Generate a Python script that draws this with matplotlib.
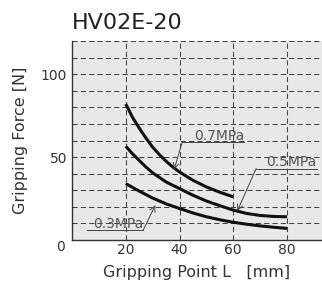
import matplotlib
matplotlib.use('Agg')
import matplotlib.pyplot as plt

# gripping point L [mm] and gripping force [N]
L_07 = [20, 22.5, 25, 27.5, 30, 32.5, 35, 37.5, 40, 45, 50, 55, 60]
F_07 = [82, 74, 67.5, 61.5, 56, 51.5, 47.5, 44, 41, 36, 32, 28.8, 26]
L_05 = [20, 22.5, 25, 27.5, 30, 35, 40, 45, 50, 55, 60, 65, 70, 75, 80]
F_05 = [56.5, 52, 48, 44, 40.5, 35, 31, 27, 23.5, 20.7, 18, 16, 14.8, 14.2, 14]
L_03 = [20, 25, 30, 35, 40, 45, 50, 55, 60, 65, 70, 75, 80]
F_03 = [34, 29.5, 25.3, 21.8, 19, 16.3, 14, 12.2, 10.7, 9.5, 8.5, 7.7, 7]

labels = ['0.7MPa', '0.5MPa', '0.3MPa']
xticks = [20, 40, 60, 80]
yticks = [50, 100]

plt.rcParams['font.family'] = ['DejaVu Sans']

fig = plt.figure(figsize=(3.22, 2.81), dpi=100)
ax = fig.add_axes([72/322, 1-240/281, 250/322, 199/281])
ax.set_facecolor('#e8e8e8')
ax.set_xlim(0, 93)
ax.set_ylim(0, 120)

# dashed grid
gc = '#444444'
for y in range(10, 121, 10):
	ax.axhline(y, color=gc, lw=0.75, ls=(0, (5, 3)), zorder=1)
for x in xticks:
	ax.axvline(x, color=gc, lw=0.75, ls=(0, (5, 3)), zorder=1)

for s in ['top', 'right']:
	ax.spines[s].set_visible(False)
for s in ['left', 'bottom']:
	ax.spines[s].set_color('#333333')
	ax.spines[s].set_linewidth(1.0)

for L, F in [(L_07, F_07), (L_05, F_05), (L_03, F_03)]:
	ax.plot(L, F, color='#111111', lw=2.2, zorder=3, solid_capstyle='butt', solid_joinstyle='round')

ax.set_xticks(xticks)
ax.set_yticks(yticks)
ax.tick_params(length=0, labelsize=10, labelcolor='#333333')
ax.tick_params(axis='x', pad=2)
ax.tick_params(axis='y', pad=3.5)
ax.text(-4.3, -4.3, '0', ha='center', va='center', fontsize=10, color='#333333', clip_on=False)

ax.set_xlabel('Gripping Point L   [mm]', fontsize=11.5, color='#333333', labelpad=6)
ax.set_ylabel('Gripping Force [N]', fontsize=11.5, color='#333333', labelpad=9)
fig.text(72/322, 1-23/281, 'HV02E-20', fontsize=16, color='#222222', ha='left', va='center')

# leader labels
lc = '#444444'
def leader(text, x0, x1, y, tip, start):
	ax.plot([x0, x1], [y, y], color=lc, lw=0.7, zorder=4)
	ax.text(x1, y+1.5, text, ha='right', va='baseline', fontsize=10, color='#555555', zorder=4)
	ax.annotate('', xy=tip, xytext=start,
		arrowprops=dict(arrowstyle='->,head_length=0.4,head_width=0.2', color=lc, lw=0.7,
			shrinkA=0, shrinkB=0), zorder=4)

leader(labels[0], 41, 64, 59, (38, 42.5), (41, 59))
leader(labels[1], 68.5, 91, 43, (61.5, 17.5), (68.5, 43))
leader(labels[2], 5.5, 26.5, 6, (31, 21), (26.5, 6))

fig.savefig('out.png', dpi=100)
